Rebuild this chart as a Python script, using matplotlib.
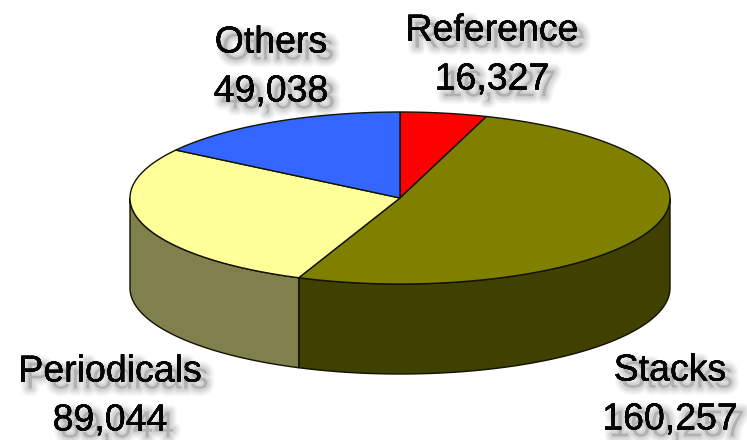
import numpy as np
import matplotlib
matplotlib.use('Agg')
import matplotlib.pyplot as plt
import matplotlib.patheffects as pe

labels = ['Reference', 'Stacks', 'Periodicals', 'Others']
values = [16327, 160257, 89044, 49038]
top_colors = ['#ff0000', '#808000', '#ffff99', '#3366ff']
side_colors = ['#800000', '#404000', '#80804d', '#1a3380']

# pie geometry, in picture pixels
cx, cy = 400, 198
rx, ry = 270, 86
depth = 90

plt.rcParams['font.family'] = ['Liberation Sans', 'DejaVu Sans']

fig = plt.figure(figsize=(7.47, 4.40), dpi=100)
ax = fig.add_axes([0, 0, 1, 1])
ax.set_xlim(0, 747)
ax.set_ylim(440, 0)
ax.axis('off')

total = sum(values)
edges = np.cumsum([0] + values) / total * 2 * np.pi


def rim(a, b):
    t = np.linspace(a, b, 200)
    return cx + rx * np.sin(t), cy - ry * np.cos(t)


# side walls: only the front half of the ellipse is visible
for i in range(len(values)):
    a = max(edges[i], np.pi / 2)
    b = min(edges[i + 1], 3 * np.pi / 2)
    if a < b:
        x, y = rim(a, b)
        ax.fill(np.r_[x, x[::-1]], np.r_[y, y[::-1] + depth],
                facecolor=side_colors[i], edgecolor='#111100', lw=1.0, zorder=2)

# top faces
for i in range(len(values)):
    x, y = rim(edges[i], edges[i + 1])
    ax.fill(np.r_[cx, x], np.r_[cy, y], facecolor=top_colors[i],
            edgecolor='#111100', lw=1.0, zorder=3)

# soft drop shadow, built from a few wide faint strokes
shadow = []
for w, al in [(11, 0.025), (9, 0.03), (7, 0.035), (5, 0.04), (3, 0.045)]:
    shadow.append(pe.withStroke(linewidth=w, foreground='#000000', alpha=al, offset=(5, -5)))
shadow.append(pe.Normal())

label_pos = [(492, 55), (670, 395), (110, 396), (271, 67)]
for name, val, (lx, ly) in zip(labels, values, label_pos):
    s = name + '\n' + format(val, ',')
    ax.text(lx, ly, s, ha='center', va='center', fontsize=27, color='#050505',
            linespacing=1.46, path_effects=shadow, zorder=5)

fig.savefig('out.png', dpi=100)
